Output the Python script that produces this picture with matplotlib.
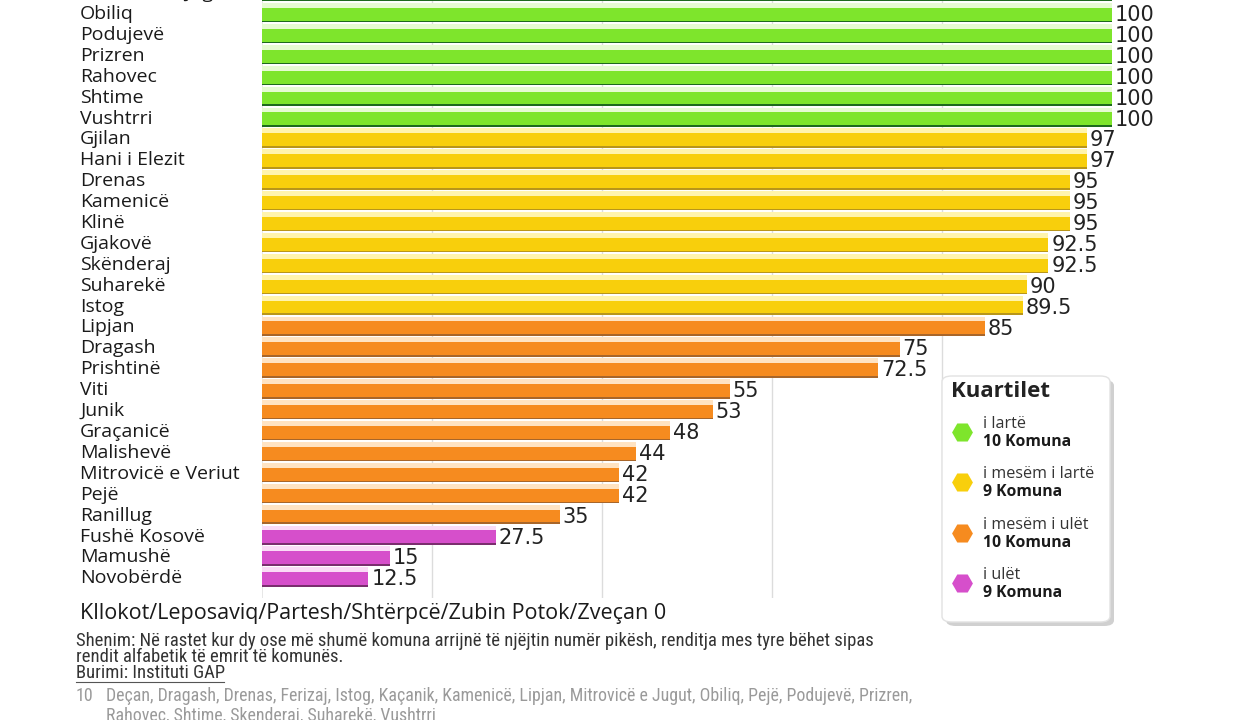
import matplotlib
matplotlib.use("Agg")
import matplotlib.pyplot as plt
from matplotlib.patches import FancyBboxPatch
from matplotlib.lines import Line2D
import numpy as np

# komunat dhe piket (renditja nga lart poshte)
komunat = ["Mitrovicë e Jugut", "Obiliq", "Podujevë", "Prizren", "Rahovec", "Shtime", "Vushtrri",
           "Gjilan", "Hani i Elezit", "Drenas", "Kamenicë", "Klinë", "Gjakovë", "Skënderaj",
           "Suharekë", "Istog", "Lipjan", "Dragash", "Prishtinë", "Viti", "Junik", "Graçanicë",
           "Malishevë", "Mitrovicë e Veriut", "Pejë", "Ranillug", "Fushë Kosovë", "Mamushë",
           "Novobërdë"]
piket = [100, 100, 100, 100, 100, 100, 100,
         97, 97, 95, 95, 95, 92.5, 92.5, 90, 89.5,
         85, 75, 72.5, 55, 53, 48, 44, 42, 42, 35,
         27.5, 15, 12.5]
kuartili = [0] * 7 + [1] * 9 + [2] * 10 + [3] * 3
zero_label = "Kllokot/Leposaviq/Partesh/Shtërpcë/Zubin Potok/Zveçan"
zero_value = 0

kuartil_emrat = ["i lartë", "i mesëm i lartë", "i mesëm i ulët", "i ulët"]
kuartil_numri = ["10 Komuna", "9 Komuna", "10 Komuna", "9 Komuna"]

ngjyrat = ["#7ee52c", "#f8cf0c", "#f68b1f", "#d64fcb"]
zbehta = ["#e6fbd2", "#fff4ad", "#ffe3c2", "#fadbf6"]
errta = ["#1d6a1d", "#b8961a", "#a8662a", "#7a2e6e"]

W, H = 1241, 720
fig = plt.figure(figsize=(W / 100, H / 100), dpi=100)
fig.patch.set_facecolor("white")

# axes: x 0..100 -> px 262..1112 ; rreshti i -> px 14 + 20.9*(i-1)
row_px = 20.9
ax_bottom_px = 598
ax = fig.add_axes([262 / W, 1 - ax_bottom_px / H, 850 / W, ax_bottom_px / H])
ax.set_xlim(0, 100)
top_idx = 1 - 14 / row_px
bot_idx = 1 + (ax_bottom_px - 14) / row_px
ax.set_ylim(bot_idx, top_idx)

y = np.arange(len(komunat))
vals = np.array(piket)
c_main = [ngjyrat[k] for k in kuartili]
c_pale = [zbehta[k] for k in kuartili]
c_dark = [errta[k] for k in kuartili]

ax.barh(y - 0.405, vals, height=0.24, color=c_pale, linewidth=0, zorder=2)
ax.barh(y + 0.02, vals, height=0.62, color=c_main, linewidth=0, zorder=3)
ax.barh(y + 0.365, vals, height=0.07, color=c_dark, linewidth=0, zorder=3)

for i, (name, v) in enumerate(zip(komunat, piket)):
    ax.text(-21.4, i, name, ha="left", va="center", fontsize=14, family="Open Sans",
            color="#1a1a1a", clip_on=False)
    lab = f"{v:g}"
    ax.text(v + 0.35, i + 0.05, lab, ha="left", va="center", fontsize=15, family="DejaVu Sans",
            color="#222222", clip_on=False)

ax.text(-21.4, bot_idx + 0.75, f"{zero_label} {zero_value}", ha="left", va="center",
        fontsize=15.5, family="Open Sans", color="#1a1a1a", clip_on=False)

ax.set_xticks([20, 40, 60, 80])
ax.grid(axis="x", color="#dcdcdc", linewidth=1, zorder=0)
ax.axvline(0, color="#e3e3e3", linewidth=1.2, zorder=1)
ax.tick_params(length=0, labelbottom=False, labelleft=False)
for s in ax.spines.values():
    s.set_visible(False)

# legjenda
def px(xp, yp):
    return xp / W, 1 - yp / H

shadow = FancyBboxPatch(px(946, 626), 168 / W, 246 / H, boxstyle="round,pad=0,rounding_size=0.008",
                        transform=fig.transFigure, facecolor="#d0d0d0", edgecolor="none", zorder=5)
box = FancyBboxPatch(px(942, 622), 168 / W, 246 / H, boxstyle="round,pad=0,rounding_size=0.008",
                     transform=fig.transFigure, facecolor="white", edgecolor="#e2e2e2",
                     linewidth=1, zorder=6)
fig.patches.extend([shadow, box])
fig.text(*px(951, 392), "Kuartilet", fontsize=16, fontweight="bold", family="Open Sans",
         color="#222222", va="center", ha="left", zorder=7)
for k in range(4):
    yc = 432 + 50.3 * k
    xm, ym = px(962, yc)
    fig.add_artist(Line2D([xm], [ym], marker="H", markersize=15, color=ngjyrat[k],
                          markeredgewidth=0, linestyle="none", transform=fig.transFigure,
                          zorder=7))
    fig.text(*px(983, yc - 8), kuartil_emrat[k], fontsize=11.6, family="Open Sans", color="#333333",
             va="center", ha="left", zorder=7)
    fig.text(*px(983, yc + 10), kuartil_numri[k], fontsize=11.3, fontweight="bold", family="Open Sans",
             color="#1a1a1a", va="center", ha="left", zorder=7)

# shenimet
note_font = ["Liberation Sans Narrow", "Roboto Condensed", "Roboto"]
nfs = 13.4
gfs = 12.9
fig.text(*px(76, 641), "Shenim: Në rastet kur dy ose më shumë komuna arrijnë të njëjtin numër pikësh, "
         "renditja mes tyre bëhet sipas", fontsize=nfs, family=note_font, color="#333333", va="center")
fig.text(*px(76, 657), "rendit alfabetik të emrit të komunës.", fontsize=nfs, family=note_font,
         color="#333333", va="center")
fig.text(*px(76, 673), "Burimi: Instituti GAP", fontsize=nfs, family=note_font, color="#333333",
         va="center")
fig.add_artist(Line2D([76 / W, 224 / W], [1 - 682 / H, 1 - 682 / H], color="#555555",
                      linewidth=0.8, transform=fig.transFigure))
fig.text(*px(76, 696), "10", fontsize=gfs, family=note_font, color="#9a9a9a", va="center")
fig.text(*px(106, 696), "Deçan, Dragash, Drenas, Ferizaj, Istog, Kaçanik, Kamenicë, Lipjan, "
         "Mitrovicë e Jugut, Obiliq, Pejë, Podujevë, Prizren,", fontsize=gfs, family=note_font,
         color="#9a9a9a", va="center")
fig.text(*px(106, 716), "Rahovec, Shtime, Skenderaj, Suharekë, Vushtrri", fontsize=gfs,
         family=note_font, color="#9a9a9a", va="center")

fig.savefig("out.png", dpi=100)
